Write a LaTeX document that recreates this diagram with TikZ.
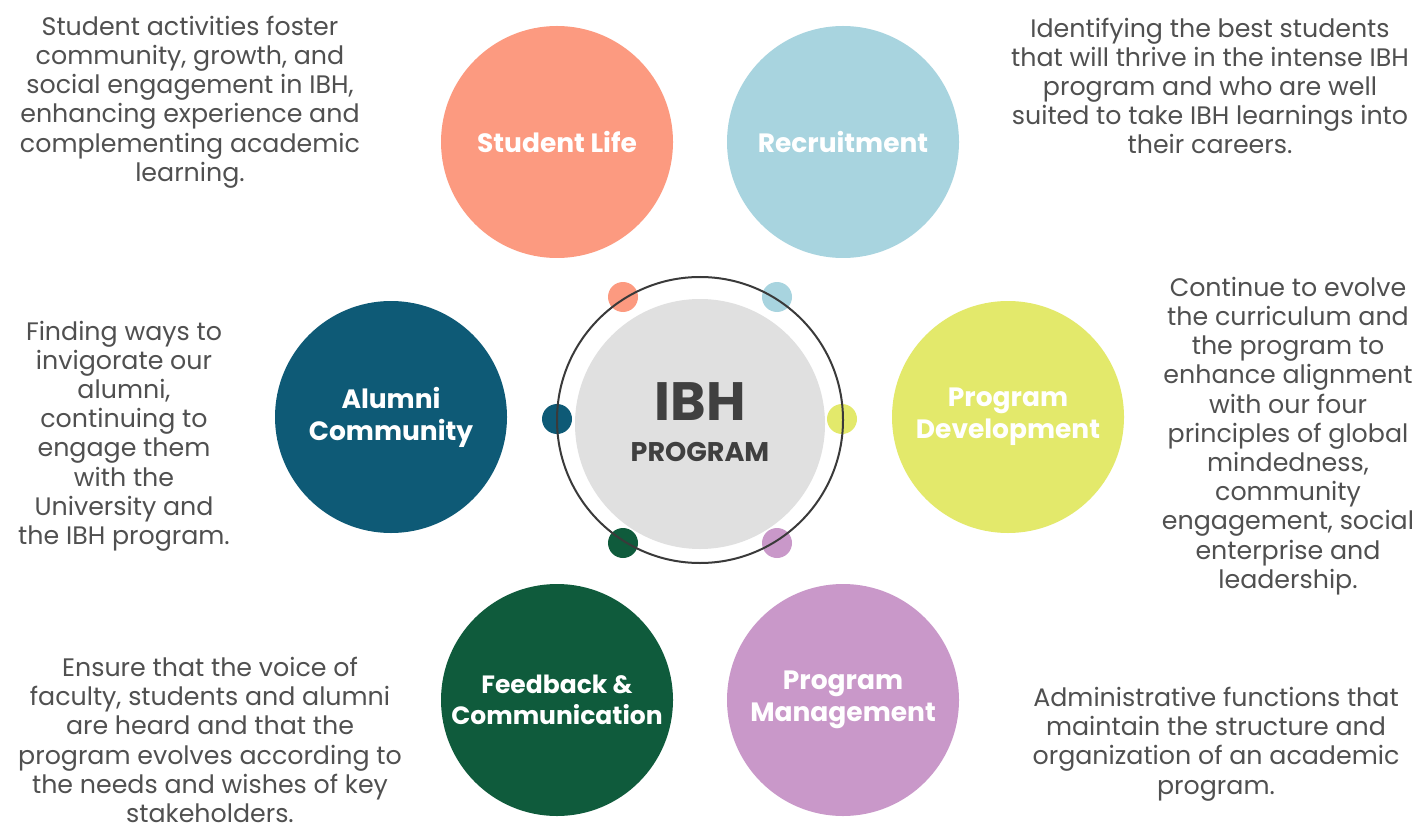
\documentclass[tikz,border=0pt]{standalone}
\usepackage{fontspec}
\setmainfont{Poppins}
\definecolor{salmon}{HTML}{FC9A80}
\definecolor{ltblue}{HTML}{A8D4DF}
\definecolor{teal}{HTML}{0E5A76}
\definecolor{lime}{HTML}{E3E96B}
\definecolor{dgreen}{HTML}{0F5B3C}
\definecolor{lilac}{HTML}{C998C9}
\definecolor{txtgray}{HTML}{505050}
\definecolor{ctrgray}{HTML}{E0E0E0}
\definecolor{ibhgray}{HTML}{404040}
\definecolor{ringgray}{HTML}{3A3A3A}
\tikzset{
  big/.style={circle, minimum size=232pt, inner sep=0pt, text=white, align=center,
     font=\bfseries\fontsize{26.5}{32}\selectfont},
  dot/.style={circle, minimum size=30pt, inner sep=0pt},
  desc/.style={align=center, text=txtgray, inner sep=0pt, font=\fontsize{25.3}{29.2}\selectfont},
}
\begin{document}
\begin{tikzpicture}[x=1pt,y=-1pt]
\useasboundingbox[fill=white] (0,0) rectangle (1418,826);
% centre
\node[circle, fill=ctrgray, minimum size=250pt, inner sep=0pt] (ctr) at (700,424) {};
\node[text=ibhgray, font=\bfseries\fontsize{54}{54}\selectfont, inner sep=0pt] (ibh) at (700,402) {IBH};
\node[text=ibhgray, font=\bfseries\fontsize{27}{27}\selectfont, inner sep=0pt] (prog) at (700,452) {PROGRAM};
% small dots (under ring)
\node[dot, fill=salmon] (d1) at (623,297) {};
\node[dot, fill=ltblue] (d2) at (777,297) {};
\node[dot, fill=teal] (d3) at (557,419) {};
\node[dot, fill=lime] (d4) at (842,419) {};
\node[dot, fill=dgreen] (d5) at (623,543) {};
\node[dot, fill=lilac] (d6) at (777,543) {};
\draw[ringgray, line width=2pt] (700,420) circle[radius=143];
% big circles
\node[big, fill=salmon] (sl) at (557,142) {Student Life};
\node[big, fill=ltblue] (rc) at (843,142) {Recruitment};
\node[big, fill=teal] (ac) at (391,417) {Alumni\\Community};
\node[big, fill=lime] (pd) at (1008,417) {Program\\Development};
\node[big, fill=dgreen, font=\bfseries\fontsize{25}{31}\selectfont] (fc) at (557,700) {Feedback \&\\Communication};
\node[big, fill=lilac] (pm) at (843,700) {Program\\Management};
% descriptions
\node[desc] (t1) at (190,102) {Student activities foster\\community, growth, and\\social engagement in IBH,\\enhancing experience and\\complementing academic\\learning.};
\node[desc] (t2) at (1210,86) {Identifying the best students\\that will thrive in the intense IBH\\program and who are well\\suited to take IBH learnings into\\their careers.};
\node[desc] (t3) at (124,436) {Finding ways to\\invigorate our\\alumni,\\continuing to\\engage them\\with the\\University and\\the IBH program.};
\node[desc] (t4) at (1288,436) {Continue to evolve\\the curriculum and\\the program to\\enhance alignment\\with our four\\principles of global\\mindedness,\\community\\engagement, social\\enterprise and\\leadership.};
\node[desc, anchor=south] (t5) at (210,823) {Ensure that the voice of\\faculty, students and alumni\\are heard and that the\\program evolves according to\\the needs and wishes of key\\stakeholders.};
\node[desc] (t6) at (1216,744) {Administrative functions that\\maintain the structure and\\organization of an academic\\program.};
\end{tikzpicture}
\end{document}
